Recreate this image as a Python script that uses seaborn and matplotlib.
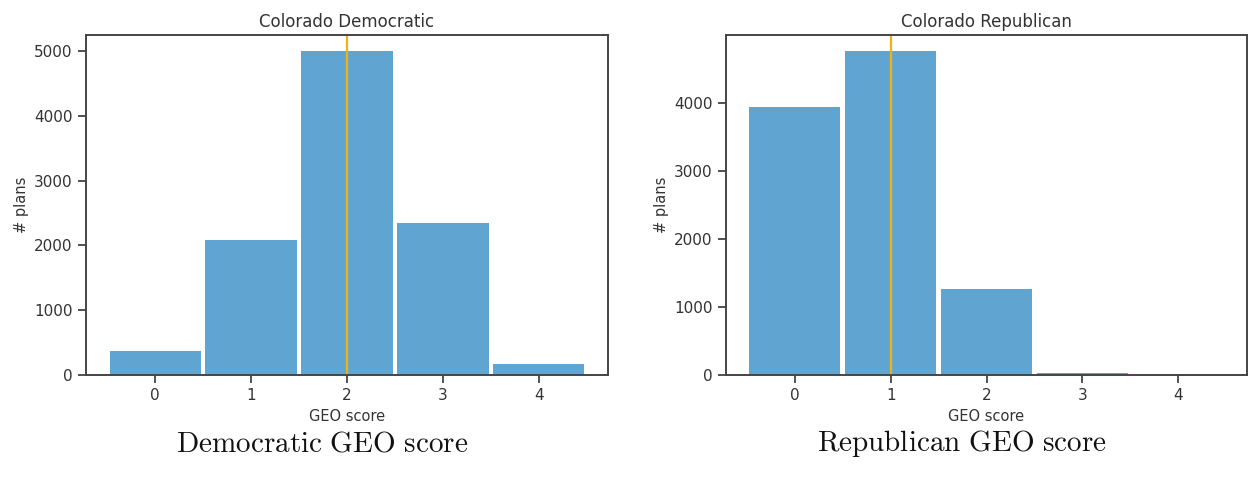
import matplotlib
matplotlib.use("Agg")
import matplotlib.pyplot as plt
import seaborn as sns
import pandas as pd

# Data
geo_scores = [0, 1, 2, 3, 4]
dem_counts = [372, 2092, 5000, 2348, 170]
rep_counts = [3942, 4755, 1262, 30, 4]
dem_enacted = 2
rep_enacted = 1
titles = ["Colorado Democratic", "Colorado Republican"]
captions = ["Democratic GEO score", "Republican GEO score"]

sns.set_theme(style="ticks", rc={
    "axes.edgecolor": "#444444",
    "axes.linewidth": 1.4,
    "xtick.color": "#333333",
    "ytick.color": "#333333",
    "xtick.major.width": 1.2,
    "ytick.major.width": 1.2,
    "text.color": "#333333",
    "axes.labelcolor": "#333333",
    "mathtext.fontset": "cm",
})
plt.rcParams["font.family"] = ["DejaVu Sans"]

bar_color = "#60a5d2"
line_color = "#f2b20c"

fig = plt.figure(figsize=(12.48, 4.78), dpi=100)
W, H = 1248, 478
ax1 = fig.add_axes([86 / W, (H - 375) / H, (608 - 86) / W, 340 / H])
ax2 = fig.add_axes([726 / W, (H - 375) / H, (1247 - 726) / W, 340 / H])

cap_x = [322 / W, 962 / W]

for i, (ax, counts, enacted, title, cap) in enumerate([
    (ax1, dem_counts, dem_enacted, titles[0], captions[0]),
    (ax2, rep_counts, rep_enacted, titles[1], captions[1]),
]):
    df = pd.DataFrame({"score": geo_scores, "count": counts})
    sns.histplot(data=df, x="score", weights="count", discrete=True,
                 shrink=0.95, color=bar_color, alpha=1.0, edgecolor=bar_color,
                 linewidth=0, ax=ax)
    ax.axvline(enacted, color=line_color, lw=1.6)
    ax.set_title(title, fontsize=12, pad=6)
    ax.set_xlabel("GEO score", fontsize=10.5)
    ax.set_ylabel("# plans", fontsize=10.5)
    ax.set_xticks(geo_scores)
    ax.tick_params(labelsize=11)
    for s in ax.spines.values():
        s.set_visible(True)
    ax.set_xlim(-0.72, 4.72)
    top = max(counts) * 1.05
    ax.set_ylim(0, top)
    fig.text(cap_x[i], 1 - 451 / H, r"$\mathrm{" + cap.replace(" ", r"\ ") + "}$",
             ha="center", va="baseline", fontsize=21, color="#111111")

fig.savefig("out.png", dpi=100)
